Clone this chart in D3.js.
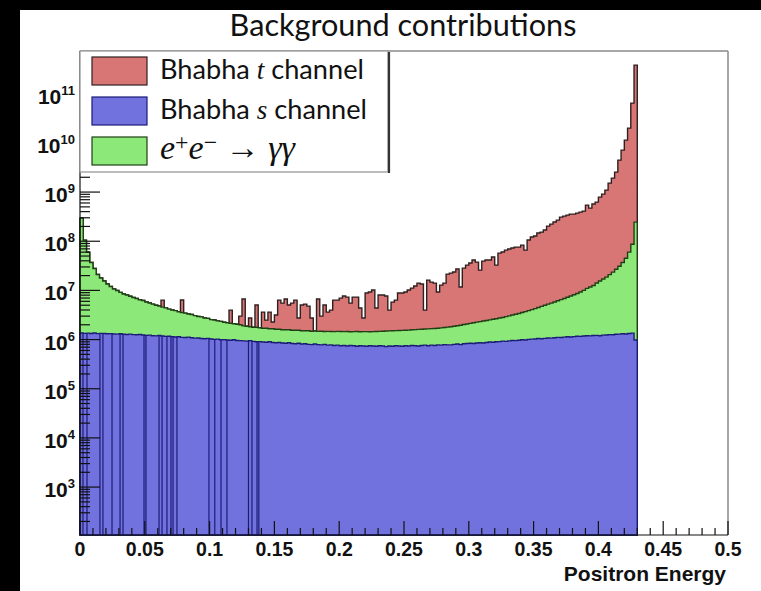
<!DOCTYPE html>
<html>
<head>
<meta charset="utf-8">
<script src="https://cdn.jsdelivr.net/npm/d3@7"></script>
<style>
  html, body { margin: 0; padding: 0; background: #000; }
  svg { display: block; }
</style>
</head>
<body>
<svg id="chart" width="761" height="591"></svg>
<script>
// ---- histogram data: counts per 0.0025-wide positron-energy bin, starting at 0 ----
const binWidth = 0.0025;

// Bhabha s channel
const sChannel = [
  1.36e6, 1.34e6, 1.35e6, 1.33e6, 1.36e6, 1.32e6, 1.34e6, 1.33e6, 1.31e6, 1.32e6,
  1.30e6, 1.29e6, 1.31e6, 1.28e6, 1.27e6, 1.29e6, 1.26e6, 1.25e6, 1.27e6, 1.24e6,
  1.22e6, 1.23e6, 1.20e6, 1.19e6, 1.21e6, 1.18e6, 1.16e6, 1.17e6, 1.15e6, 1.13e6,
  1.14e6, 1.11e6, 1.10e6, 1.12e6, 1.09e6, 1.07e6, 1.08e6, 1.05e6, 1.04e6, 1.06e6,
  1.03e6, 1.01e6, 1.02e6, 9.9e5, 1.00e6, 9.8e5, 9.7e5, 9.9e5, 9.6e5, 9.5e5,
  9.4e5, 9.3e5, 9.5e5, 9.2e5, 9.0e5, 9.1e5, 8.9e5, 8.8e5, 9.0e5, 8.7e5,
  8.6e5, 8.7e5, 8.5e5, 8.4e5, 8.6e5, 8.3e5, 8.2e5, 8.4e5, 8.1e5, 8.2e5,
  8.0e5, 7.9e5, 8.1e5, 7.9e5, 7.8e5, 8.0e5, 7.7e5, 7.8e5, 7.6e5, 7.7e5,
  7.5e5, 7.6e5, 7.4e5, 7.6e5, 7.5e5, 7.3e5, 7.5e5, 7.4e5, 7.3e5, 7.5e5,
  7.4e5, 7.3e5, 7.5e5, 7.4e5, 7.2e5, 7.4e5, 7.3e5, 7.5e5, 7.4e5, 7.3e5,
  7.5e5, 7.4e5, 7.6e5, 7.5e5, 7.4e5, 7.6e5, 7.7e5, 7.5e5, 7.7e5, 7.6e5,
  7.8e5, 7.7e5, 7.9e5, 7.8e5, 7.8e5, 8.0e5, 8.1e5, 7.9e5, 8.2e5, 8.3e5,
  8.4e5, 8.3e5, 8.5e5, 8.6e5, 8.5e5, 8.7e5, 8.9e5, 8.8e5, 9.0e5, 9.1e5,
  9.3e5, 9.2e5, 9.4e5, 9.6e5, 9.5e5, 9.7e5, 9.9e5, 9.8e5, 1.01e6, 1.02e6,
  1.03e6, 1.05e6, 1.04e6, 1.06e6, 1.08e6, 1.07e6, 1.09e6, 1.11e6, 1.10e6, 1.12e6,
  1.14e6, 1.13e6, 1.15e6, 1.17e6, 1.16e6, 1.18e6, 1.20e6, 1.19e6, 1.21e6, 1.22e6,
  1.20e6, 1.23e6, 1.24e6, 1.26e6, 1.25e6, 1.28e6, 1.29e6, 1.31e6, 1.30e6, 1.33e6,
  1.35e6, 9.8e5
];

// e+e- -> gamma gamma
const ggChannel = [
  2.94e8, 1.04e8, 5.87e7, 3.57e7, 2.66e7, 1.97e7, 1.65e7, 1.42e7, 1.22e7, 1.07e7,
  9.4e6, 8.7e6, 7.8e6, 7.2e6, 6.8e6, 6.3e6, 5.9e6, 5.6e6, 5.2e6, 5.0e6,
  4.6e6, 4.3e6, 4.05e6, 3.8e6, 3.6e6, 3.4e6, 3.25e6, 3.0e6, 2.85e6, 2.75e6,
  2.55e6, 2.45e6, 2.35e6, 2.2e6, 2.15e6, 2.0e6, 1.87e6, 1.85e6, 1.7e6, 1.64e6,
  1.52e6, 1.49e6, 1.38e6, 1.36e6, 1.25e6, 1.22e6, 1.18e6, 1.11e6, 1.09e6, 1.05e6,
  9.6e5, 9.3e5, 8.7e5, 8.6e5, 8.8e5, 8.3e5, 8.1e5, 8.2e5, 7.6e5, 7.9e5,
  7.6e5, 7.5e5, 7.3e5, 7.4e5, 7.2e5, 7.2e5, 7.3e5, 7.1e5, 7.0e5, 6.9e5,
  7.1e5, 6.9e5, 6.8e5, 6.8e5, 7.0e5, 6.6e5, 7.0e5, 6.8e5, 6.9e5, 7.0e5,
  7.1e5, 6.9e5, 7.2e5, 6.8e5, 7.0e5, 7.3e5, 6.9e5, 7.1e5, 7.2e5, 6.9e5,
  7.1e5, 7.3e5, 7.2e5, 7.4e5, 7.7e5, 7.6e5, 7.8e5, 7.7e5, 7.9e5, 8.1e5,
  8.0e5, 8.2e5, 8.2e5, 8.4e5, 8.7e5, 8.6e5, 8.7e5, 9.0e5, 9.0e5, 9.2e5,
  9.2e5, 9.6e5, 9.7e5, 1.01e6, 1.04e6, 1.06e6, 1.10e6, 1.17e6, 1.20e6, 1.25e6,
  1.30e6, 1.37e6, 1.41e6, 1.46e6, 1.53e6, 1.58e6, 1.63e6, 1.71e6, 1.76e6, 1.83e6,
  1.89e6, 2.01e6, 2.10e6, 2.19e6, 2.32e6, 2.42e6, 2.56e6, 2.73e6, 2.87e6, 3.05e6,
  3.24e6, 3.45e6, 3.70e6, 3.94e6, 4.17e6, 4.43e6, 4.73e6, 5.04e6, 5.40e6, 5.74e6,
  6.10e6, 6.57e6, 7.00e6, 7.48e6, 8.09e6, 8.82e6, 9.8e6, 1.05e7, 1.14e7, 1.29e7,
  1.43e7, 1.58e7, 1.74e7, 1.97e7, 2.23e7, 2.57e7, 2.97e7, 3.57e7, 4.37e7, 5.87e7,
  8.57e7, 2.44e8
];

// Bhabha t channel
const tChannel = [
  0, 0, 0, 0, 0, 0, 0, 0, 0, 0,
  0, 0, 0, 0, 0, 0, 0, 0, 0, 0,
  0, 0, 0, 0, 0, 1.75e6, 0, 0, 0, 0,
  0, 2.8e6, 0, 0, 0, 0, 0, 0, 0, 0,
  0, 0, 0, 0, 0, 0, 1.83e6, 0, 0, 1.0e6,
  4.77e6, 0, 9.2e5, 0, 3.26e6, 0, 1.92e6, 7.9e5, 1.96e6, 6.1e5,
  1.53e6, 4.73e6, 3.94e6, 5.09e6, 3.46e6, 3.97e6, 4.8e6, 1.19e6, 3.53e6, 3.76e6,
  3.29e6, 1.26e6, 0, 5.2e6, 1.52e6, 3.58e6, 2.15e6, 2.52e6, 4.9e6, 4.88e6,
  5.52e6, 6.22e6, 5.85e6, 4.08e6, 5.86e6, 5.85e6, 2.94e6, 1.29e6, 7.38e6, 7.81e6,
  8.71e6, 2.92e6, 6.57e6, 6.56e6, 6.18e6, 2.48e6, 4.28e6, 4.83e6, 7.30e6, 7.29e6,
  7.70e6, 8.6e6, 9.56e6, 1.066e7, 1.248e7, 1.184e7, 2.34e6, 1.457e7, 1.309e7, 1.241e7,
  7.55e6, 1.11e7, 1.233e7, 1.969e7, 2.067e7, 2.174e7, 2.525e7, 9.73e6, 2.642e7, 3.065e7,
  3.383e7, 3.92e7, 3.541e7, 2.356e7, 3.707e7, 3.895e7, 3.888e7, 4.505e7, 3.007e7, 5.467e7,
  5.744e7, 6.314e7, 6.63e7, 6.946e7, 7.276e7, 7.264e7, 8.0e7, 6.236e7, 1.018e8, 1.175e8,
  1.231e8, 1.421e8, 1.488e8, 1.637e8, 1.98e8, 2.179e8, 2.397e8, 2.63e8, 3.032e8, 3.174e8,
  3.328e8, 3.488e8, 3.483e8, 3.646e8, 3.824e8, 4.002e8, 5.323e8, 4.604e8, 5.576e8, 6.111e8,
  7.752e8, 8.93e8, 1.077e9, 1.503e9, 1.90e9, 2.52e9, 4.436e9, 7.108e9, 1.136e10, 1.994e10,
  6.448e10, 3.817e11
];

// energies where the s-channel histogram outline falls to the axis
const sChannelDrops = [
  0.0023, 0.0054, 0.0154, 0.0177, 0.0247, 0.0309, 0.0332, 0.0494, 0.0509, 0.0610,
  0.0633, 0.0671, 0.0702, 0.0718, 0.0748, 0.0995, 0.1040, 0.1088, 0.1134, 0.1300,
  0.1327, 0.1366, 0.1380
];

const xTickValues = [0, 0.05, 0.1, 0.15, 0.2, 0.25, 0.3, 0.35, 0.4, 0.45, 0.5];
const xTickLabels = ["0", "0.05", "0.1", "0.15", "0.2", "0.25", "0.3", "0.35", "0.4", "0.45", "0.5"];
const yTickExponents = [3, 4, 5, 6, 7, 8, 9, 10, 11];
const titleText = "Background contributions";
const xAxisTitle = "Positron Energy";

// ---- layout ----
const W = 761, H = 591;
const frame = { left: 80, right: 728, top: 51, bottom: 535 };
const colors = {
  t: { fill: "#d87676", line: "#2e2020" },
  gg: { fill: "#8de87a", line: "#1f3f14" },
  s: { fill: "#7272de", line: "#1c1c78" }
};

const svg = d3.select("#chart");

// canvas (dark margin on the top/left, white page)
svg.append("rect").attr("x", 20).attr("y", 10).attr("width", W - 20).attr("height", H - 10).attr("fill", "#ffffff");

const x = d3.scaleLinear().domain([0, 0.5]).range([frame.left, frame.right]);
const y = d3.scaleLog().domain([106, 7.4e11]).range([frame.bottom, frame.top]);

// stacked rows
const rows = sChannel.map((s, i) => ({ s: s, gg: ggChannel[i], t: tChannel[i] }));
const stacked = d3.stack().keys(["s", "gg", "t"])(rows);
const nBins = rows.length;

function stepPoints(series) {
  const pts = series.map((d, i) => ({ e: i * binWidth, top: d[1] }));
  pts.push({ e: nBins * binWidth, top: series[nBins - 1][1] });
  return pts;
}

const area = d3.area()
  .x(d => x(d.e))
  .y0(frame.bottom)
  .y1(d => y(Math.max(d.top, y.domain()[0])))
  .curve(d3.curveStepAfter);

const plot = svg.append("g");

// draw from the top of the stack down so lower layers overlap
[["t", 2], ["gg", 1], ["s", 0]].forEach(([key, idx]) => {
  plot.append("path")
    .datum(stepPoints(stacked[idx]))
    .attr("d", area)
    .attr("fill", colors[key].fill)
    .attr("stroke", colors[key].line)
    .attr("stroke-width", 1.4)
    .attr("stroke-linejoin", "miter");
});

// s-channel outline drops
plot.append("g").selectAll("line")
  .data(sChannelDrops)
  .join("line")
  .attr("x1", d => x(d)).attr("x2", d => x(d))
  .attr("y1", frame.bottom)
  .attr("y2", d => y(sChannel[Math.min(nBins - 1, Math.floor(d / binWidth))]))
  .attr("stroke", colors.s.line)
  .attr("stroke-width", 1.2);

// ---- frame ----
svg.append("line").attr("x1", frame.left).attr("x2", frame.right).attr("y1", frame.top).attr("y2", frame.top)
  .attr("stroke", "#8a8a8a").attr("stroke-width", 1.5);
svg.append("line").attr("x1", frame.right).attr("x2", frame.right).attr("y1", frame.top).attr("y2", frame.bottom)
  .attr("stroke", "#8a8a8a").attr("stroke-width", 1.5);

// ---- axes ----
const axes = svg.append("g").attr("stroke", "#111").attr("stroke-width", 1.2);
axes.append("line").attr("x1", frame.left).attr("x2", frame.right).attr("y1", frame.bottom).attr("y2", frame.bottom);
axes.append("line").attr("x1", frame.left).attr("x2", frame.left).attr("y1", frame.top).attr("y2", frame.bottom);

// x ticks: major every 0.05, minor every 0.01
const xMinor = d3.range(0, 51).map(k => k / 100).filter(v => Math.round(v * 100) % 5 !== 0);
axes.append("g").selectAll("line").data(xTickValues).join("line")
  .attr("x1", d => x(d)).attr("x2", d => x(d))
  .attr("y1", frame.bottom).attr("y2", frame.bottom - 14);
axes.append("g").selectAll("line").data(xMinor).join("line")
  .attr("x1", d => x(d)).attr("x2", d => x(d))
  .attr("y1", frame.bottom).attr("y2", frame.bottom - 7);

// y ticks: decades and 2..9 subdivisions
const yMinor = [];
for (let k = 2; k <= 11; k++) for (let m = 2; m <= 9; m++) {
  const v = m * Math.pow(10, k);
  if (v >= y.domain()[0] && v <= y.domain()[1]) yMinor.push(v);
}
const yMajor = yTickExponents.map(k => Math.pow(10, k));
axes.append("g").selectAll("line").data(yMajor).join("line")
  .attr("x1", frame.left).attr("x2", frame.left + 20)
  .attr("y1", d => y(d)).attr("y2", d => y(d));
axes.append("g").selectAll("line").data(yMinor).join("line")
  .attr("x1", frame.left).attr("x2", frame.left + 10)
  .attr("y1", d => y(d)).attr("y2", d => y(d));

// tick labels
const labelFont = "'Liberation Sans', Arial, Helvetica, sans-serif";
svg.append("g").selectAll("text").data(xTickValues).join("text")
  .attr("x", d => x(d)).attr("y", 556)
  .attr("text-anchor", "middle")
  .attr("font-family", labelFont).attr("font-weight", "bold").attr("font-size", 19.5)
  .attr("fill", "#111")
  .text((d, i) => xTickLabels[i]);

const yLab = svg.append("g").selectAll("text").data(yTickExponents).join("text")
  .attr("x", 75).attr("y", d => y(Math.pow(10, d)) + 10)
  .attr("text-anchor", "end")
  .attr("font-family", labelFont).attr("font-weight", "bold").attr("font-size", 21)
  .attr("fill", "#111");
yLab.append("tspan").text("10");
yLab.append("tspan").attr("dy", -9).attr("font-size", 13).text(d => d);

svg.append("text")
  .attr("x", 726).attr("y", 581)
  .attr("text-anchor", "end")
  .attr("font-family", labelFont).attr("font-weight", "bold").attr("font-size", 21)
  .attr("fill", "#111")
  .text(xAxisTitle);

// ---- title ----
const textFont = "Lato, 'Open Sans', sans-serif";
function fitFont(sel, target) {
  sel.attr("font-size", 100);
  const w = sel.node().getComputedTextLength();
  sel.attr("font-size", 100 * target / w);
}
const title = svg.append("text")
  .attr("x", 403).attr("y", 36)
  .attr("text-anchor", "middle")
  .attr("font-family", textFont)
  .attr("fill", "#111")
  .text(titleText);
fitFont(title, 347);

// ---- legend ----
const lg = svg.append("g");
lg.append("rect").attr("x", 80).attr("y", 51).attr("width", 308).attr("height", 121)
  .attr("fill", "#fff").attr("stroke", "#9a9a9a").attr("stroke-width", 1.3);
lg.append("line").attr("x1", 389).attr("x2", 389).attr("y1", 52).attr("y2", 173)
  .attr("stroke", "#333").attr("stroke-width", 2.2);

const legendKeys = ["t", "s", "gg"];
const rowTop = [57, 97, 137];
legendKeys.forEach((k, i) => {
  lg.append("rect").attr("x", 92).attr("y", rowTop[i]).attr("width", 55).attr("height", 28)
    .attr("fill", colors[k].fill).attr("stroke", colors[k].line).attr("stroke-width", 1.2);
});

const mathFont = "'Liberation Serif', 'DejaVu Serif', serif";
function channelLabel(row, letter) {
  const t = lg.append("text").attr("x", 160).attr("y", rowTop[row] + 22)
    .attr("font-family", textFont).attr("fill", "#111");
  t.append("tspan").text("Bhabha ");
  t.append("tspan").attr("font-family", mathFont).attr("font-style", "italic").text(letter);
  t.append("tspan").text(" channel");
  return t;
}
const l1 = channelLabel(0, "t");
const l2 = channelLabel(1, "s");
fitFont(l2, 207);
l1.attr("font-size", l2.attr("font-size"));

const l3 = lg.append("text").attr("x", 160).attr("y", rowTop[2] + 22)
  .attr("font-family", mathFont).attr("fill", "#111");
l3.append("tspan").attr("font-style", "italic").text("e");
l3.append("tspan").attr("dy", -9).attr("font-size", "0.7em").text("+");
l3.append("tspan").attr("dy", 9).attr("font-style", "italic").text("e");
l3.append("tspan").attr("dy", -9).attr("font-size", "0.7em").text("\u2212");
l3.append("tspan").attr("dy", 9).text(" \u2192 ");
l3.append("tspan").attr("font-style", "italic").text("\u03B3\u03B3");
fitFont(l3, 135);
</script>
</body>
</html>
